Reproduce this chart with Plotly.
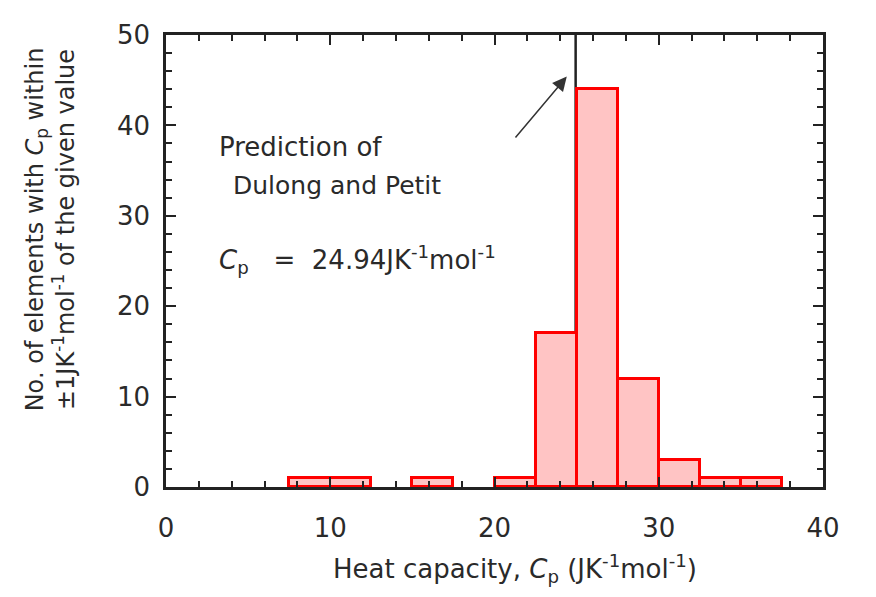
import plotly.graph_objects as go

# Histogram bins (left edge, width) and counts
bin_left = [7.5, 15.0, 20.0, 22.5, 25.0, 27.5, 30.0, 32.5, 35.0]
bin_width = [5.0, 2.5, 2.5, 2.5, 2.5, 2.5, 2.5, 2.5, 2.5]
counts = [1, 1, 1, 17, 44, 12, 3, 1, 1]

dulong_petit = 24.94
x_ticks = [0, 10, 20, 30, 40]
y_ticks = [0, 10, 20, 30, 40, 50]

FONT = "DejaVu Sans, Liberation Sans, Arial, sans-serif"
TXT = "#2a2a2a"

fig = go.Figure()
fig.add_trace(go.Bar(
    x=bin_left, y=counts, width=bin_width, offset=0,
    marker=dict(color="#ffc4c4", line=dict(color="#ff0000", width=3)),
    showlegend=False, hoverinfo="skip",
))

fig.add_shape(type="line", x0=dulong_petit, x1=dulong_petit, y0=0, y1=50,
              xref="x", yref="y", line=dict(color="#222222", width=2.5), layer="below")

fig.add_annotation(x=24.4, y=45.4, ax=21.2, ay=38.5, xref="x", yref="y",
                   axref="x", ayref="y", showarrow=True, arrowhead=2,
                   arrowsize=1.9, arrowwidth=1.5, arrowcolor="#333333", text="")

fig.add_annotation(x=3.1, y=37.6, xref="x", yref="y", xanchor="left", yanchor="middle",
                   text="Prediction of", showarrow=False,
                   font=dict(family=FONT, size=26, color=TXT))
fig.add_annotation(x=3.95, y=33.4, xref="x", yref="y", xanchor="left", yanchor="middle",
                   text="Dulong and Petit", showarrow=False,
                   font=dict(family=FONT, size=25, color=TXT))
fig.add_annotation(x=3.1, y=25.2, xref="x", yref="y", xanchor="left", yanchor="middle",
                   text="<i>C</i><sub>p</sub>   =  24.94JK<sup>-1</sup>mol<sup>-1</sup>",
                   showarrow=False, font=dict(family=FONT, size=26, color=TXT))

fig.add_annotation(x=-0.1766, y=0.57, xref="paper", yref="paper", textangle=-90,
                   xanchor="center", yanchor="middle",
                   text="No. of elements with <i>C</i><sub>p</sub> within<br>"
                        "±1JK<sup>-1</sup>mol<sup>-1</sup> of the given value",
                   showarrow=False, font=dict(family=FONT, size=24, color=TXT))
fig.add_annotation(x=0.531, y=-0.18, xref="paper", yref="paper",
                   xanchor="center", yanchor="middle",
                   text="Heat capacity, <i>C</i><sub>p</sub> (JK<sup>-1</sup>mol<sup>-1</sup>)",
                   showarrow=False, font=dict(family=FONT, size=26, color=TXT))

axis_common = dict(showline=True, linecolor="#222222", linewidth=2.5, mirror="allticks",
                   ticks="inside", ticklen=10, tickwidth=2, tickcolor="#222222",
                   showgrid=False, zeroline=False,
                   tickfont=dict(family=FONT, size=26, color=TXT))

fig.update_xaxes(range=[0, 40], tickvals=x_ticks, ticklabelstandoff=16,
                 minor=dict(dtick=2, ticks="inside", ticklen=6, tickwidth=2, tickcolor="#222222"),
                 **axis_common)
fig.update_yaxes(range=[0, 50], tickvals=y_ticks, ticklabelstandoff=8,
                 minor=dict(dtick=2, ticks="inside", ticklen=6, tickwidth=2, tickcolor="#222222"),
                 **axis_common)

fig.update_layout(width=860, height=581, margin=dict(l=158, r=45, t=19, b=102),
                  plot_bgcolor="white", paper_bgcolor="white", bargap=0)

fig.write_html("out.html")
